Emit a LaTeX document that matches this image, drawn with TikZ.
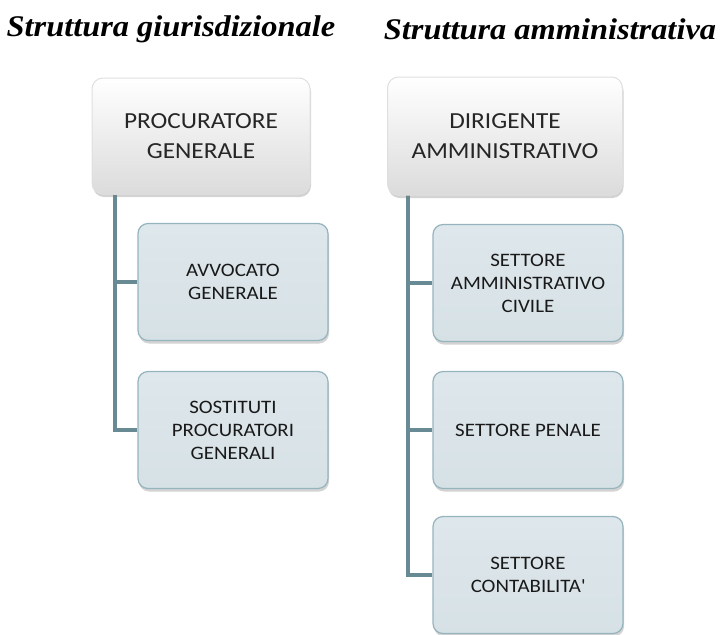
\documentclass[tikz,border=0pt]{standalone}
\usepackage{fontspec}
\setmainfont{Carlito}[FakeStretch=1.1]
\newfontfamily\titlefont{Liberation Serif}[FakeStretch=1.08]
\usetikzlibrary{shadows}
\definecolor{linec}{RGB}{104,138,148}
\definecolor{childfill}{RGB}{214,225,230}
\definecolor{childdraw}{RGB}{150,180,190}
\begin{document}
\begin{tikzpicture}[x=1pt,y=-1pt,
  title/.style={font=\titlefont\bfseries\itshape\fontsize{30}{36}\selectfont, anchor=center},
  topbox/.style={rounded corners=11pt, draw=gray!25, line width=1pt, top color=white, bottom color=gray!28,
     drop shadow={shadow xshift=1pt, shadow yshift=-3pt, opacity=0.35},
     align=center, font=\fontsize{23}{30}\selectfont, text=black!85},
  childbox/.style={rounded corners=10pt, draw=childdraw, line width=1.2pt, top color=childfill!80, bottom color=childfill,
     drop shadow={shadow xshift=1pt, shadow yshift=-3pt, opacity=0.35},
     minimum width=190pt, minimum height=117pt, align=center, font=\fontsize{19}{23}\selectfont, text=black!90},
  conn/.style={draw=linec, line width=4.5pt}]
\useasboundingbox (0,0) rectangle (721,635);
\node[title] (t1) at (171,29) {Struttura giurisdizionale};
\node[title] (t2) at (550,29) {Struttura amministrativa};
\node[childbox] (avv) at (233,282) {AVVOCATO\\GENERALE};
\node[childbox] (sost) at (233,430) {SOSTITUTI\\PROCURATORI\\GENERALI};
\node[childbox] (sac) at (528,283) {SETTORE\\AMMINISTRATIVO\\CIVILE};
\node[childbox] (sp) at (528,430) {SETTORE PENALE};
\node[childbox] (sc) at (528,575) {SETTORE\\CONTABILITA\textquotesingle};
\coordinate (lx) at (115,195);
\coordinate (rx) at (408,195);
\draw[conn] (lx) |- (sost.west);
\draw[conn] (lx |- avv.west) -- (avv.west);
\draw[conn] (rx) |- (sc.west);
\draw[conn] (rx |- sac.west) -- (sac.west);
\draw[conn] (rx |- sp.west) -- (sp.west);
\node[topbox, minimum width=218pt, minimum height=116pt] (pg) at (201,136) {PROCURATORE\\GENERALE};
\node[topbox, minimum width=235pt, minimum height=118pt] (da) at (505,136) {DIRIGENTE\\AMMINISTRATIVO};
\end{tikzpicture}
\end{document}
